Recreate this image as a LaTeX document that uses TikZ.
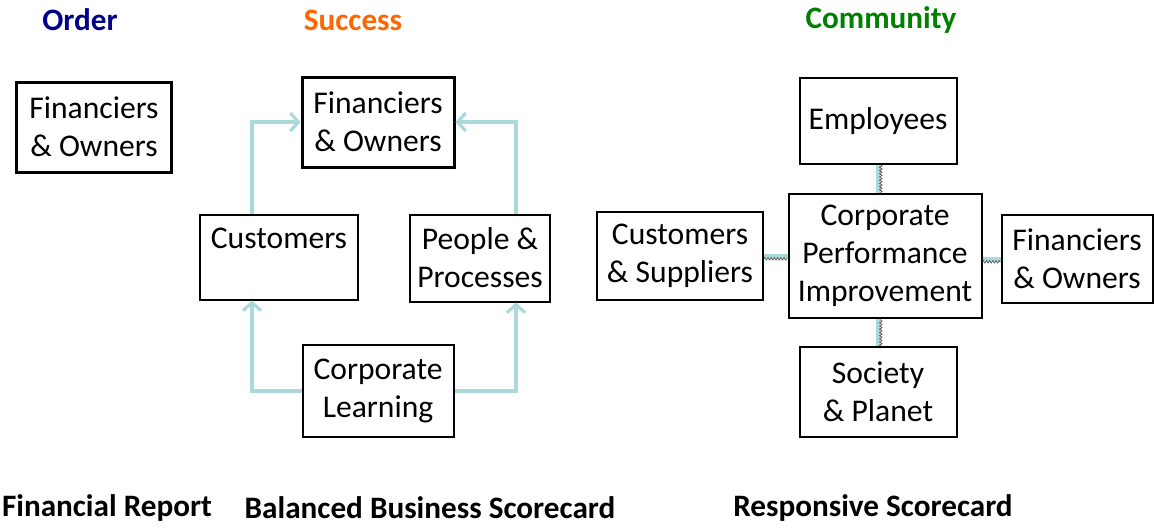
\documentclass[tikz,border=0pt]{standalone}
\usepackage{fontspec}
\setmainfont{Carlito}
\usetikzlibrary{arrows.meta,decorations.pathmorphing}
\definecolor{ordercolor}{rgb}{0.000000, 0.000000, 0.545000}
\definecolor{successcolor}{rgb}{1.000000, 0.400000, 0.000000}
\definecolor{communitycolor}{rgb}{0.000000, 0.500000, 0.000000}
\definecolor{flowcolor}{rgb}{0.670000, 0.850000, 0.860000}
\tikzset{
  box/.style={draw=black, line width=1pt, align=center, inner sep=0pt,
    font=\fontsize{15.8}{19}\selectfont},
  boldbox/.style={box, line width=1.5pt},
  title/.style={font=\fontsize{15.6}{19}\selectfont\bfseries},
  flow/.style={draw=flowcolor, line width=2pt, -{Straight Barb[length=4pt,width=9pt,line width=1.6pt]}},
  link/.style={draw=flowcolor, line width=2.2pt},
  linkshade/.style={draw=black!65, line width=0.4pt, decorate,
    decoration={zigzag, amplitude=0.6pt, segment length=1.6pt}}
}
\begin{document}
\begin{tikzpicture}[x=0.5pt,y=-0.5pt]
\useasboundingbox (0,0) rectangle (1154,531);
% titles
\node[title, text=ordercolor] (order) at (80,20) {Order};
\node[title, text=successcolor] (success) at (353,20) {Success};
\node[title, text=communitycolor] (community) at (881,20) {Community};
% financial report
\node[boldbox, minimum width=77.5pt, minimum height=45pt] (fin1) at (94,127) {Financiers\\\& Owners};
% balanced business scorecard
\node[boldbox, minimum width=76pt, minimum height=45pt] (fin2) at (378,122) {Financiers\\\& Owners};
\node[box, minimum width=79pt, minimum height=42.5pt] (cust) at (279,257) {Customers\\\phantom{X}};
\node[box, minimum width=70pt, minimum height=43.5pt] (people) at (480,258) {People \&\\Processes};
\node[box, minimum width=75.5pt, minimum height=46pt] (learn) at (378,391) {Corporate\\Learning};
\draw[flow] ([xshift=-13.5pt]cust.north) |- (fin2.west);
\draw[flow] ([xshift=18pt]people.north) |- (fin2.east);
\draw[flow] (learn.west) -| ([xshift=-13.5pt]cust.south);
\draw[flow] (learn.east) -| ([xshift=18pt]people.south);
% responsive scorecard
\node[box, minimum width=78.5pt, minimum height=43pt] (emp) at (878,121) {Employees};
\node[box, minimum width=96.5pt, minimum height=62pt] (cpi) at (885,256) {Corporate\\Performance\\Improvement};
\node[box, minimum width=83pt, minimum height=44pt] (custsup) at (680,256) {Customers\\\& Suppliers};
\node[box, minimum width=75.5pt, minimum height=44pt] (fin3) at (1077,259) {Financiers\\\& Owners};
\node[box, minimum width=78.5pt, minimum height=45pt] (soc) at (878,392) {Society\\\& Planet};
\draw[link] (emp.south) -- (emp.south |- cpi.north);
\draw[linkshade] ([xshift=1.4pt]emp.south) -- ([xshift=1.4pt]emp.south |- cpi.north);
\draw[link] (soc.north) -- (soc.north |- cpi.south);
\draw[linkshade] ([xshift=1.4pt]soc.north) -- ([xshift=1.4pt]soc.north |- cpi.south);
\draw[link] (custsup.east) -- (custsup.east -| cpi.west);
\draw[linkshade] ([yshift=-1.4pt]custsup.east) -- ([yshift=-1.4pt]custsup.east -| cpi.west);
\draw[link] (cpi.east |- fin3.west) -- (fin3.west);
\draw[linkshade] ([yshift=-1.4pt]cpi.east |- fin3.west) -- ([yshift=-1.4pt]fin3.west);
% scorecard names
\node[title] (report) at (107,508) {Financial Report};
\node[title] (balanced) at (430,508) {Balanced Business Scorecard};
\node[title] (responsive) at (873,508) {Responsive Scorecard};
\end{tikzpicture}
\end{document}
